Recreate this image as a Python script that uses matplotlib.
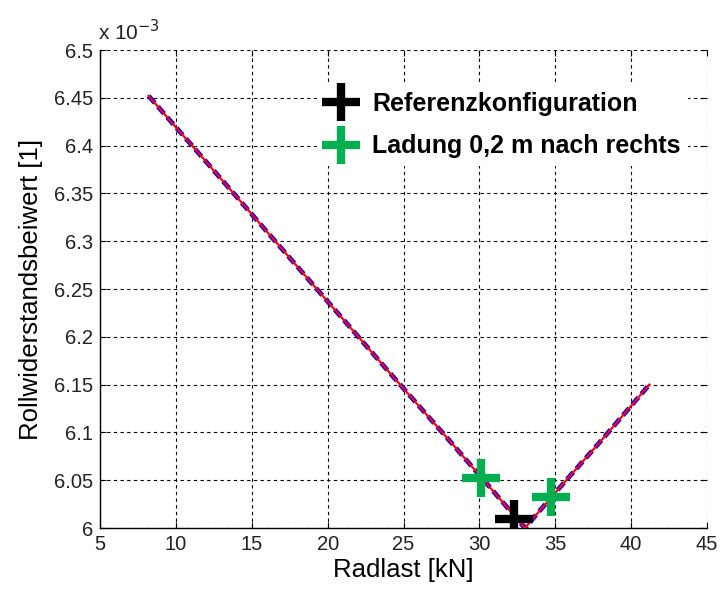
import matplotlib
matplotlib.use("Agg")
import matplotlib.pyplot as plt

plt.rcParams['font.family'] = ['Liberation Sans', 'DejaVu Sans']

# Data (y values in units of 1e-3)
radlast = [8.2, 12, 16, 20, 24, 28, 31, 33, 35, 38, 41.2]
rollwid = [6.452, 6.383, 6.310, 6.237, 6.164, 6.092, 6.037, 6.000, 6.037, 6.091, 6.150]

ref_x = [32.3]
ref_y = [6.010]
ladung_x = [30.1, 34.7]
ladung_y = [6.052, 6.032]

xticks = [5, 10, 15, 20, 25, 30, 35, 40, 45]
yticks = [6.0, 6.05, 6.1, 6.15, 6.2, 6.25, 6.3, 6.35, 6.4, 6.45, 6.5]
yticklabels = ['6', '6.05', '6.1', '6.15', '6.2', '6.25', '6.3', '6.35', '6.4', '6.45', '6.5']

fig = plt.figure(figsize=(7.21, 5.92), dpi=100)
ax = fig.add_axes([0.1387, 0.108, 0.8419, 0.8075])

ax.plot(radlast, rollwid, color='#0000ff', lw=3.4, ls=(0, (2, 1)), zorder=3)
ax.plot(radlast, rollwid, color='#ff0000', lw=1.6, zorder=4)

ax.plot(ref_x, ref_y, '+', color='black', ms=28, mew=6, zorder=5, label='Referenzkonfiguration')
ax.plot(ladung_x, ladung_y, '+', color='#00b050', ms=28, mew=6, zorder=5, label='Ladung 0,2 m nach rechts')

ax.set_xlim(5, 45)
ax.set_ylim(6.0, 6.5)
ax.set_xticks(xticks)
ax.set_yticks(yticks)
ax.set_yticklabels(yticklabels)
ax.tick_params(direction='in', top=True, right=True, labelsize=14.5, length=4, colors='black',
               labelcolor='#222222', pad=5)
ax.grid(True, color='black', ls=(0, (3, 3)), lw=0.8)
for s in ['top', 'right']:
    ax.spines[s].set_visible(False)
for s in ['left', 'bottom']:
    ax.spines[s].set_linewidth(1.0)

ax.set_xlabel('Radlast [kN]', fontsize=18.5, labelpad=3)
ax.set_ylabel('Rollwiderstandsbeiwert [1]', fontsize=18.5, labelpad=8)
ax.text(-0.003, 1.012, r'x 10$^{-3}$', transform=ax.transAxes, fontsize=15, ha='left', va='bottom',
        color='#222222')

leg = ax.legend(loc='upper right', bbox_to_anchor=(0.99, 0.955), frameon=True, fancybox=False,
                edgecolor='none', facecolor='white', framealpha=1,
                prop={'weight': 'bold', 'size': 18}, handlelength=1.3, handletextpad=0.6,
                labelspacing=0.75, borderpad=0.3)

fig.savefig('out.png', dpi=100)
